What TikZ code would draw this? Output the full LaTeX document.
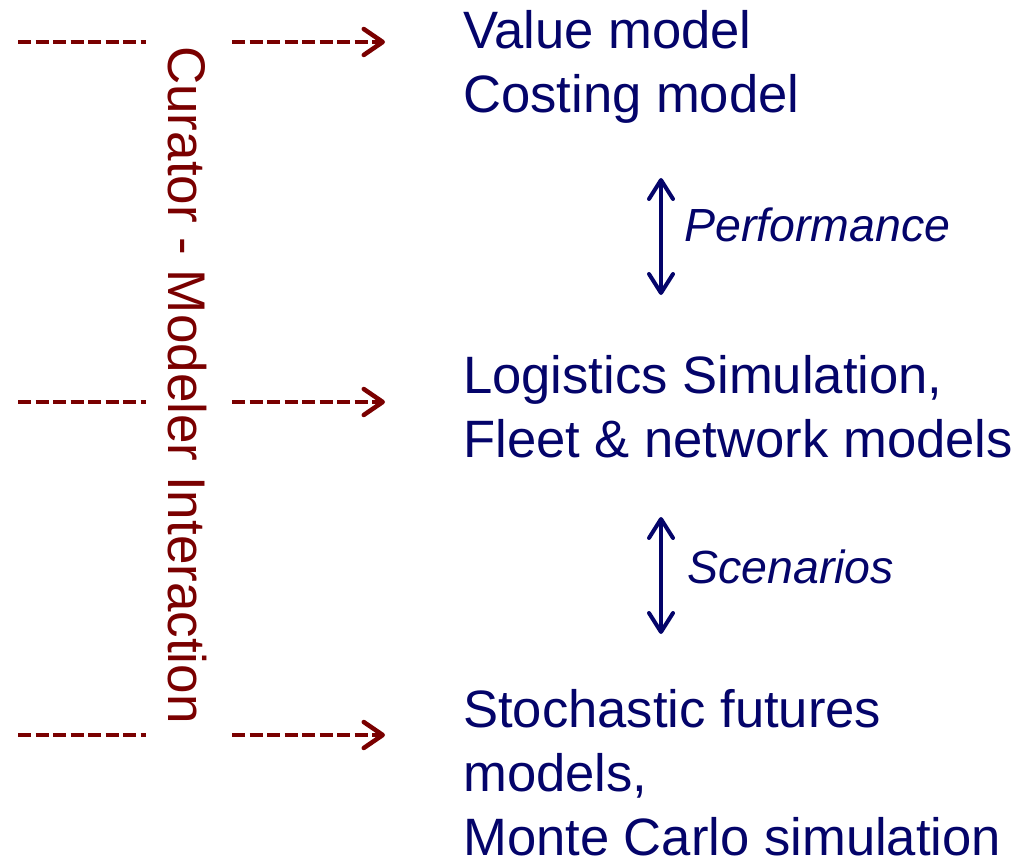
\documentclass[tikz,border=0pt]{standalone}
\usepackage{fontspec}
\setmainfont{Liberation Sans}
\usetikzlibrary{arrows.meta}
\definecolor{navyblue}{RGB}{4,4,106}
\definecolor{darkmaroon}{RGB}{122,0,0}
\begin{document}
\begin{tikzpicture}[x=1pt,y=-1pt,
  mtext/.style={text=navyblue, font=\fontsize{52.6}{64}\selectfont, align=left, inner sep=0pt, anchor=base west},
  lbl/.style={text=navyblue, font=\fontsize{46.5}{55}\selectfont\itshape, inner sep=0pt, anchor=base west},
  side/.style={text=darkmaroon, font=\fontsize{53}{63}\selectfont, inner sep=0pt, anchor=base west, rotate=-90},
  feed/.style={draw=darkmaroon, line width=4.5pt, dash pattern=on 13pt off 4.5pt},
  feedarrow/.style={feed, -{Straight Barb[length=19pt,width=26pt,round,line width=4.5pt]}},
  flow/.style={draw=navyblue, line width=3.6pt, {Straight Barb[length=19pt,width=24pt,round,line width=4pt]}-{Straight Barb[length=19pt,width=24pt,round,line width=4pt]}}
]
\useasboundingbox[fill=white] (0,0) rectangle (1032,858);

% right-hand blocks (anchor is the baseline of the last line)
\node[mtext] (top) at (463,113) {Value model\\Costing model};
\node[mtext] (mid) at (463,457) {Logistics Simulation,\\Fleet \& network models};
\node[mtext] (bot) at (463,855) {Stochastic futures\\models,\\Monte Carlo simulation};

% vertical label
\node[side] (curator) at (168,46) {Curator - Modeler Interaction};

% double arrows
\coordinate (a1) at (661,178);
\coordinate (a2) at (661,295);
\coordinate (b1) at (661,517);
\coordinate (b2) at (661,634);
\draw[flow] (a1) -- (a2);
\draw[flow] (b1) -- (b2);
\node[lbl] (perf) at (684,242) {Performance};
\node[lbl] (scen) at (687,583) {Scenarios};

% dashed feeds
\foreach \r/\y in {1/42,2/402,3/735}{
  \coordinate (l\r s) at (18,\y);
  \coordinate (l\r e) at (146,\y);
  \coordinate (r\r s) at (232,\y);
  \coordinate (r\r e) at (385,\y);
  \draw[feed] (l\r s) -- (l\r e);
  \draw[feedarrow] (r\r s) -- (r\r e);
}
\end{tikzpicture}
\end{document}
